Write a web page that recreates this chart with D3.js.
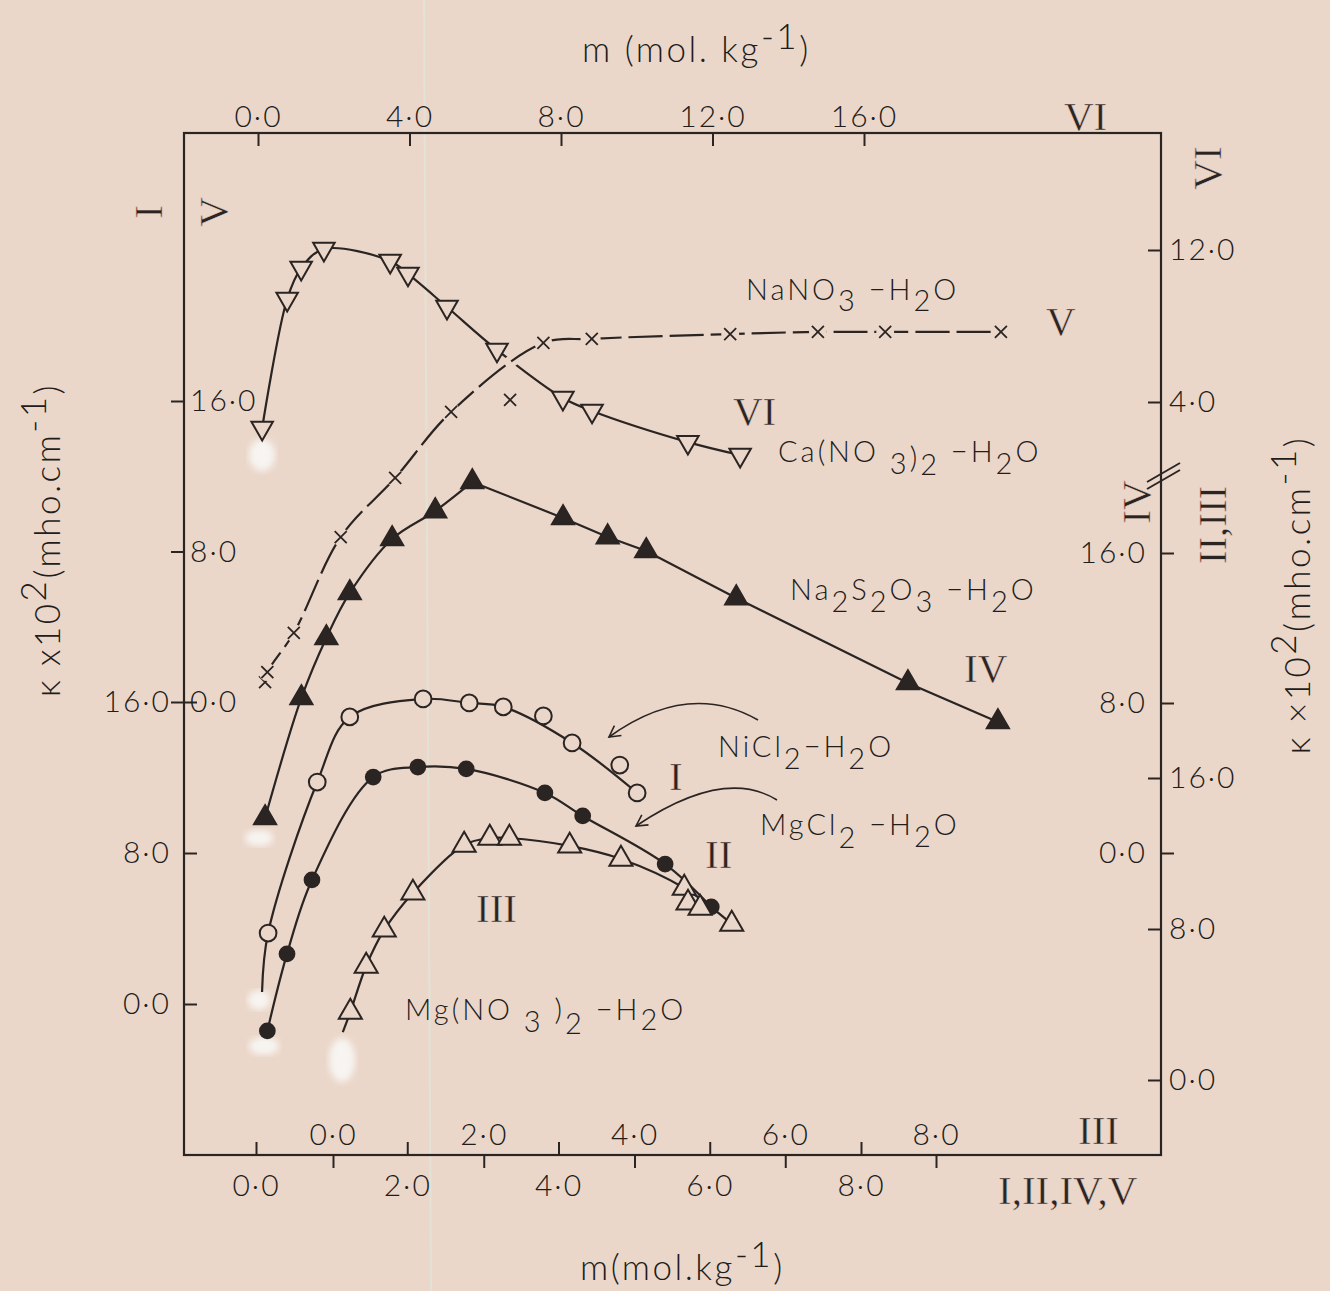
<!DOCTYPE html>
<html>
<head>
<meta charset="utf-8">
<script src="https://cdn.jsdelivr.net/npm/d3@7"></script>
<style>
  html, body { margin: 0; padding: 0; background: #ebd7ca; }
  svg { display: block; }
  .tick text { font-family: Lato, sans-serif; font-weight: 300; font-size: 30px; fill: #221c1a; letter-spacing: 2px; }
  .tick line { stroke: #2a2422; stroke-width: 2; }
  .domain { display: none; }
  .label { font-family: Lato, sans-serif; font-weight: 300; font-size: 29px; fill: #221c1a; letter-spacing: 3px; }
  .title { font-family: Lato, sans-serif; font-weight: 300; font-size: 35px; fill: #221c1a; letter-spacing: 2.5px; }
  .roman { font-family: 'Liberation Serif', serif; font-size: 41px; fill: #2a2422; stroke: #ebd7ca; stroke-width: 0.5px; }
</style>
</head>
<body>
<svg id="chart"></svg>
<script>
// I  NiCl2-H2O (open circles): bottom m axis, left outer kappa axis
const niclM = [0.16, 0.81, 1.24, 2.21, 2.82, 3.27, 3.80, 4.18, 4.81, 5.04];
const niclK = [3.76, 11.76, 15.21, 16.16, 15.95, 15.74, 15.26, 13.83, 12.66, 11.18];
// II MgCl2-H2O (filled circles): bottom m axis, right outer kappa axis
const mgclM = [0.15, 0.41, 0.74, 1.55, 2.14, 2.78, 3.82, 4.32, 5.41, 6.02];
const mgclK = [2.60, 6.68, 10.60, 16.05, 16.58, 16.48, 15.21, 13.99, 11.44, 9.17];
// III Mg(NO3)2-H2O (open triangles): inner bottom m axis, right outer kappa axis
const mgnoM = [0.23, 0.44, 0.68, 1.06, 1.74, 2.08, 2.34, 3.14, 3.82, 4.66, 4.71, 4.87, 5.29];
const mgnoK = [3.60, 6.04, 7.95, 9.91, 12.45, 12.82, 12.82, 12.40, 11.71, 10.17, 9.38, 9.11, 8.26];
// IV Na2S2O3-H2O (filled triangles): bottom m axis, right inner kappa axis
const nasoM = [0.12, 0.60, 0.93, 1.24, 1.80, 2.37, 2.86, 4.06, 4.65, 5.16, 6.35, 8.62, 9.81];
const nasoK = [1.87, 8.27, 11.47, 13.87, 16.75, 18.24, 19.79, 17.87, 16.85, 16.11, 13.60, 9.07, 6.99];
// V NaNO3-H2O (crosses): bottom m axis, left inner kappa axis
const nanoM = [0.12, 0.15, 0.50, 1.12, 1.84, 2.58, 3.36, 3.80, 4.44, 6.27, 7.43, 8.32, 9.85];
const nanoK = [1.06, 1.59, 3.67, 8.77, 11.91, 15.42, 16.06, 19.09, 19.30, 19.56, 19.67, 19.67, 19.67];
// VI Ca(NO3)2-H2O (down triangles): top m axis, right kappa axis VI
const canoM = [0.11, 0.77, 1.14, 1.74, 3.49, 3.96, 4.99, 6.31, 8.05, 8.82, 11.35, 12.73];
const canoK = [2.63, 9.42, 11.05, 12.05, 11.42, 10.74, 9.00, 6.74, 4.21, 3.53, 1.89, 1.21];

const bottomTicks = [0, 2, 4, 6, 8];
const topTicks = [0, 4, 8, 12, 16];
const kTicks = [0, 8, 16];
const viTicks = [4, 12];

const W = 1330, H = 1291;
const box = { left: 184, right: 1161, top: 133, bottom: 1155 };
const ink = '#2a2422', paper = '#ebd7ca';

const xMain = d3.scaleLinear().domain([0, 8]).range([256, 861]);
const xIII = d3.scaleLinear().domain([0, 8]).range([333, 936]);
const xTop = d3.scaleLinear().domain([0, 16]).range([258, 864]);
const yI = d3.scaleLinear().domain([0, 16]).range([1004, 702]);
const yV = d3.scaleLinear().domain([0, 16]).range([702, 401]);
const yVI = d3.scaleLinear().domain([4, 12]).range([402, 250]);
const yIV = d3.scaleLinear().domain([0, 16]).range([853, 553]);
const yII = d3.scaleLinear().domain([0, 16]).range([1080, 778]);

const fmt = d => d3.format('.1f')(d).replace('.', '·');

const svg = d3.select('#chart').attr('width', W).attr('height', H);
svg.append('rect').attr('width', W).attr('height', H).attr('fill', paper);

const defs = svg.append('defs');
defs.append('filter').attr('id', 'soft').append('feGaussianBlur').attr('stdDeviation', 3);
defs.append('marker').attr('id', 'head').attr('viewBox', '-12 -8 14 16')
    .attr('markerWidth', 14).attr('markerHeight', 16).attr('orient', 'auto')
    .attr('markerUnits', 'userSpaceOnUse')
    .append('path').attr('d', 'M-11,-6L0,0L-11,6').attr('fill', 'none')
    .attr('stroke', ink).attr('stroke-width', 1.6);

// faint fold line of the scanned page
svg.append('line').attr('x1', 424).attr('y1', 0).attr('x2', 431).attr('y2', H)
    .attr('stroke', '#e2e3d6').attr('stroke-width', 2);

// erased marks on the original page
const blotches = [[262, 455, 13, 16], [259, 838, 14, 8], [259, 1000, 11, 10], [264, 1046, 15, 9], [342, 1060, 13, 22]];
svg.append('g').selectAll('ellipse').data(blotches).enter().append('ellipse')
    .attr('cx', d => d[0]).attr('cy', d => d[1]).attr('rx', d => d[2]).attr('ry', d => d[3])
    .attr('fill', '#f7f4f1').attr('filter', 'url(#soft)');

svg.append('rect').attr('x', box.left).attr('y', box.top)
    .attr('width', box.right - box.left).attr('height', box.bottom - box.top)
    .attr('fill', 'none').attr('stroke', ink).attr('stroke-width', 2.2);

// axes
svg.append('g').attr('transform', `translate(0,${box.bottom})`)
    .call(d3.axisBottom(xMain).tickValues(bottomTicks).tickSize(-13).tickPadding(20).tickFormat(fmt));
svg.append('g').attr('transform', `translate(0,${box.bottom})`)
    .call(d3.axisTop(xIII).tickValues(bottomTicks).tickSize(-13).tickPadding(10).tickFormat(fmt));
svg.append('g').attr('transform', `translate(0,${box.top})`)
    .call(d3.axisTop(xTop).tickValues(topTicks).tickSize(-13).tickPadding(6).tickFormat(fmt));
svg.append('g').attr('transform', `translate(${box.left},0)`)
    .call(d3.axisLeft(yI).tickValues(kTicks).tickSize(-13).tickPadding(13).tickFormat(fmt));
svg.append('g').attr('transform', `translate(${box.left},0)`)
    .call(d3.axisRight(yV).tickValues(kTicks).tickSize(-13).tickPadding(6).tickFormat(fmt));
svg.append('g').attr('transform', `translate(${box.right},0)`)
    .call(d3.axisRight(yVI).tickValues(viTicks).tickSize(-13).tickPadding(8).tickFormat(fmt));
svg.append('g').attr('transform', `translate(${box.right},0)`)
    .call(d3.axisLeft(yIV).tickValues(kTicks).tickSize(-13).tickPadding(14).tickFormat(fmt));
svg.append('g').attr('transform', `translate(${box.right},0)`)
    .call(d3.axisRight(yII).tickValues(kTicks).tickSize(-13).tickPadding(8).tickFormat(fmt));

// axis break on the right
svg.append('g').selectAll('line').data([0, 7]).enter().append('line')
    .attr('x1', 1147).attr('x2', 1180)
    .attr('y1', d => 489 - d).attr('y2', d => 470 - d)
    .attr('stroke', ink).attr('stroke-width', 2);

const series = [
    { m: canoM, k: canoK, x: xTop, y: yVI, mark: 'down', skip: [] },
    { m: nanoM, k: nanoK, x: xMain, y: yV, mark: 'cross', skip: [6], dash: '34,7', halo: true },
    { m: nasoM, k: nasoK, x: xMain, y: yIV, mark: 'upFill', skip: [], corner: 6 },
    { m: niclM, k: niclK, x: xMain, y: yI, mark: 'circle', skip: [6, 8], tail: [0.08, 0.64] },
    { m: mgclM, k: mgclK, x: xMain, y: yII, mark: 'dot', skip: [] },
    { m: mgnoM, k: mgnoK, x: xIII, y: yII, mark: 'up', skip: [10, 11], tail: [0.13, 2.54] }
];

const smooth = d3.line().curve(d3.curveCatmullRom.alpha(0.5));
const straight = d3.line();
const lines = svg.append('g').attr('fill', 'none');

series.forEach(s => {
    const pts = [];
    if (s.tail) pts.push([s.x(s.tail[0]), s.y(s.tail[1])]);
    s.m.forEach((m, i) => { if (!s.skip.includes(i)) pts.push([s.x(m), s.y(s.k[i])]); });
    let paths;
    if (s.corner !== undefined) {
        paths = [smooth(pts.slice(0, s.corner + 1)), straight(pts.slice(s.corner))];
    } else {
        paths = [smooth(pts)];
    }
    paths.forEach(d => {
        if (s.halo) lines.append('path').attr('d', d).attr('stroke', paper).attr('stroke-width', 12);
        lines.append('path').attr('d', d).attr('stroke', ink).attr('stroke-width', 2.2)
            .attr('stroke-dasharray', s.dash || null);
    });
});

const triUp = d3.symbol(d3.symbolTriangle, 230)();
const circ = d3.symbol(d3.symbolCircle, 220)();
const marks = svg.append('g');

series.forEach(s => {
    const g = marks.append('g');
    const pt = g.selectAll('g').data(s.m.map((m, i) => [m, s.k[i]])).enter().append('g')
        .attr('transform', d => `translate(${s.x(d[0])},${s.y(d[1])})`);
    if (s.mark === 'cross') {
        pt.append('circle').attr('r', 9).attr('fill', paper);
        pt.append('path').attr('d', 'M-6,-6L6,6M-6,6L6,-6').attr('stroke', ink).attr('stroke-width', 1.8);
    } else if (s.mark === 'down') {
        pt.append('path').attr('d', d3.symbol(d3.symbolTriangle, 200)()).attr('transform', 'rotate(180)')
            .attr('fill', paper).attr('stroke', ink).attr('stroke-width', 2);
    } else if (s.mark === 'up') {
        pt.append('path').attr('d', triUp).attr('fill', paper).attr('stroke', ink).attr('stroke-width', 2);
    } else if (s.mark === 'upFill') {
        pt.append('path').attr('d', triUp).attr('fill', ink).attr('stroke', ink).attr('stroke-width', 1.5);
    } else if (s.mark === 'circle') {
        pt.append('path').attr('d', circ).attr('fill', paper).attr('stroke', ink).attr('stroke-width', 2);
    } else {
        pt.append('path').attr('d', circ).attr('fill', ink);
    }
});

// curved pointer arrows
const arrows = [[758, 720, 688, 680, 609, 737], [777, 800, 724, 767, 636, 826]];
svg.append('g').selectAll('path').data(arrows).enter().append('path')
    .attr('d', d => `M${d[0]},${d[1]}Q${d[2]},${d[3]} ${d[4]},${d[5]}`)
    .attr('fill', 'none').attr('stroke', ink).attr('stroke-width', 1.6)
    .attr('marker-end', 'url(#head)');

function formula(x, y, parts, cls, transform) {
    const t = svg.append('text').attr('class', cls || 'label').attr('x', x).attr('y', y);
    if (transform) t.attr('transform', transform).attr('text-anchor', 'middle');
    let cur = 0;
    parts.forEach(([s, off]) => {
        t.append('tspan').attr('dy', off - cur).text(s);
        cur = off;
    });
    return t;
}

formula(746, 300, [['NaNO', 0], ['3', 11], [' −H', 0], ['2', 11], ['O', 0]]);
formula(778, 462, [['Ca(NO', 0], [' 3', 12], [')', 6], ['2', 13], [' −H', 0], ['2', 12], ['O', 0]]);
formula(790, 600, [['Na', 0], ['2', 12], ['S', 0], ['2', 12], ['O', 0], ['3', 12], ['  −H', 0], ['2', 12], ['O', 0]]);
formula(718, 757, [['NiCl', 0], ['2', 12], ['−H', 0], ['2', 12], ['O', 0]]);
formula(760, 835, [['MgCl', 0], ['2', 13], [' −H', 0], ['2', 12], ['O', 0]]);
formula(405, 1020, [['Mg(NO', 0], [' 3', 12], [' )', 0], ['2', 14], [' −H', 0], ['2', 10], ['O', 0]]);

const romans = [
    ['V', 1046, 335], ['VI', 733, 425], ['IV', 964, 682], ['I', 669, 790], ['II', 705, 868],
    ['III', 476, 922], ['VI', 1064, 130], ['III', 1078, 1144], ['I,II,IV,V', 998, 1204]
];
svg.append('g').selectAll('text').data(romans).enter().append('text')
    .attr('class', 'roman').attr('x', d => d[1]).attr('y', d => d[2]).text(d => d[0]);

const romansRot = [['I', 148, 212], ['V', 213, 212], ['VI', 1207, 168], ['IV', 1136, 502], ['II,III', 1212, 525]];
svg.append('g').selectAll('text').data(romansRot).enter().append('text')
    .attr('class', 'roman').attr('text-anchor', 'middle').attr('dy', '0.33em')
    .attr('transform', d => `translate(${d[1]},${d[2]}) rotate(-90)`).text(d => d[0]);

// axis titles
formula(582, 62, [['m (mol. kg', 0], ['-1', -13], [')', 0]], 'title');
formula(580, 1280, [['m(mol.kg', 0], ['-1', -13], [')', 0]], 'title');
formula(0, 0, [['κ x10', 0], ['2', -14], ['(mho.cm', 0], ['-1', -14], [')', 0]], 'title', 'translate(60,540) rotate(-90)');
formula(0, 0, [['κ ×10', 0], ['2', -14], ['(mho.cm', 0], ['-1', -14], [')', 0]], 'title', 'translate(1310,595) rotate(-90)');
</script>
</body>
</html>
